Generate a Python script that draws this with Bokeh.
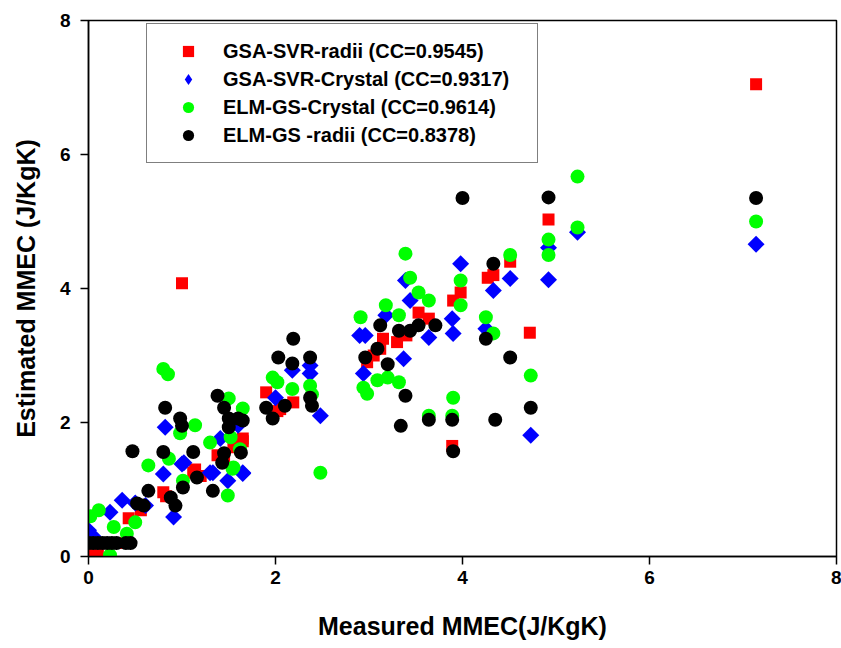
import numpy as np
from bokeh.plotting import figure
from bokeh.models import Legend, LegendItem, FixedTicker, Range1d, ColumnDataSource
from bokeh.embed import file_html
from bokeh.resources import INLINE

# GSA-SVR-radii
svr_radii_x = [0.02, 0.05, 0.1, 0.12, 0.3, 0.43, 0.56, 0.8, 0.83, 1.12, 1.14, 1.2, 1.38, 1.45, 1.55,
               1.6, 1.65, 1.65, 1.0, 1.9, 2.02, 2.05, 2.19, 2.98, 3.05, 3.12, 3.15, 3.3, 3.4, 3.53,
               3.64, 3.9, 3.89, 3.98, 4.27, 4.33, 4.51, 4.72, 4.92, 7.14]
svr_radii_y = [0.06, 0.1, 0.05, 0.2, 0.2, 0.57, 0.69, 0.96, 0.9, 1.25, 1.3, 1.2, 1.51, 1.48, 1.63,
               1.65, 1.76, 1.72, 4.08, 2.45, 2.17, 2.2, 2.3, 2.9, 3.0, 3.1, 3.25, 3.2, 3.3, 3.64,
               3.55, 3.82, 1.65, 3.94, 4.16, 4.2, 4.4, 3.34, 5.03, 7.05]

# GSA-SVR-Crystal
svr_crys_x = [0.0, 0.05, 0.23, 0.36, 0.5, 0.61, 0.8, 0.82, 0.91, 1.0, 1.02, 1.3, 1.33, 1.41, 1.49,
              1.6, 1.65, 1.65, 2.0, 2.18, 2.37, 2.37, 2.48, 2.9, 2.94, 2.96, 3.18, 3.37, 3.39, 3.44,
              3.64, 3.89, 3.9, 3.98, 4.25, 4.33, 4.51, 4.73, 4.92, 4.92, 5.23, 7.14]
svr_crys_y = [0.39, 0.3, 0.66, 0.84, 0.8, 0.76, 1.23, 1.93, 0.59, 1.38, 1.4, 1.25, 1.25, 1.76, 1.13,
              1.96, 1.25, 1.24, 2.37, 2.78, 2.73, 2.85, 2.1, 3.3, 2.73, 3.3, 3.6, 2.95, 4.12, 3.82,
              3.27, 3.55, 3.33, 4.37, 3.4, 3.97, 4.15, 1.81, 4.61, 4.13, 4.84, 4.66]

# ELM-GS-Crystal
elm_crys_x = [0.02, 0.11, 0.23, 0.27, 0.41, 0.5, 0.64, 0.8, 0.85, 0.86, 0.98, 1.01, 1.14, 1.3, 1.49,
              1.5, 1.52, 1.54, 1.55, 1.62, 1.65, 1.97, 2.02, 2.18, 2.37, 2.39, 2.48, 2.91, 2.94, 2.98,
              3.09, 3.18, 3.2, 3.32, 3.32, 3.39, 3.44, 3.53, 3.64, 3.64, 3.89, 3.9, 3.98, 3.98, 4.25,
              4.33, 4.51, 4.73, 4.92, 4.92, 5.23, 5.23, 7.14]
elm_crys_y = [0.6, 0.69, 0.02, 0.44, 0.34, 0.51, 1.36, 2.8, 2.72, 1.46, 1.84, 1.13, 1.96, 1.7, 0.91,
              2.36, 1.78, 1.31, 1.33, 1.6, 2.21, 2.67, 2.6, 2.5, 2.55, 2.42, 1.25, 3.57, 2.52, 2.43,
              2.63, 3.75, 2.67, 3.6, 2.6, 4.52, 4.16, 3.94, 3.82, 2.1, 2.1, 2.37, 4.12, 3.75, 3.57,
              3.33, 4.5, 2.7, 4.73, 4.5, 5.67, 4.91, 5.0]

# ELM-GS -radii
elm_radii_x = [0.0, 0.05, 0.1, 0.15, 0.2, 0.25, 0.3, 0.4, 0.45, 0.47, 0.52, 0.59, 0.64, 0.8, 0.82,
               0.88, 0.93, 0.98, 1.0, 1.01, 1.12, 1.16, 1.33, 1.38, 1.43, 1.45, 1.45, 1.5, 1.5, 1.6,
               1.63, 1.65, 1.9, 1.97, 2.03, 2.1, 2.18, 2.19, 2.37, 2.37, 2.39, 2.96, 3.09, 3.12, 3.2,
               3.32, 3.34, 3.39, 3.44, 3.53, 3.64, 3.71, 3.89, 3.9, 4.0, 4.25, 4.33, 4.35, 4.51, 4.73,
               4.92, 7.14]
elm_radii_y = [0.2, 0.2, 0.2, 0.2, 0.2, 0.2, 0.2, 0.2, 0.2, 1.57, 0.79, 0.76, 0.98, 1.56, 2.22,
               0.88, 0.76, 2.06, 1.95, 1.03, 1.56, 1.18, 0.98, 2.4, 1.4, 2.22, 1.54, 2.06, 1.93, 2.06,
               1.55, 2.03, 2.22, 2.06, 2.97, 2.25, 2.88, 3.25, 2.97, 2.37, 2.25, 2.97, 3.1, 3.45, 2.87,
               3.37, 1.95, 2.4, 3.37, 3.45, 2.04, 3.45, 2.04, 1.57, 5.35, 3.25, 4.37, 2.04, 2.97, 2.22,
               5.36, 5.35]

labels = ["GSA-SVR-radii (CC=0.9545)", "GSA-SVR-Crystal (CC=0.9317)",
          "ELM-GS-Crystal (CC=0.9614)", "ELM-GS -radii (CC=0.8378)"]
ticks = [0, 2, 4, 6, 8]

FONT = "Liberation Sans"
RED, BLUE, GREEN, BLACK = "#ff0000", "#0000ff", "#00ff00", "#000000"

p = figure(width=841, height=648, x_range=Range1d(0, 8), y_range=Range1d(0, 8),
           output_backend="svg", toolbar_location=None,
           min_border_left=88, min_border_right=5, min_border_top=20, min_border_bottom=92)

crys_src = ColumnDataSource(dict(x=svr_crys_x, y=svr_crys_y))

r1 = p.scatter(svr_radii_x, svr_radii_y, marker="square", size=12, fill_color=RED, line_color=None)
# diamond-marker layer (fully covered by the rotated squares below; supplies the legend key)
r2_key = p.scatter("x", "y", source=crys_src, marker="diamond", size=10,
                   fill_color=BLUE, line_color=None)
r2 = p.scatter("x", "y", source=crys_src, marker="square", angle=np.pi / 4, size=12,
               fill_color=BLUE, line_color=None)
r3 = p.scatter(elm_crys_x, elm_crys_y, marker="circle", size=14, fill_color=GREEN, line_color=None)
r4 = p.scatter(elm_radii_x, elm_radii_y, marker="circle", size=14, fill_color=BLACK, line_color=None)

p.xgrid.visible = False
p.ygrid.visible = False
p.outline_line_color = "black"
p.outline_line_width = 1.5
p.background_fill_color = "white"
p.border_fill_color = "white"

for ax in (p.xaxis, p.yaxis):
    ax.ticker = FixedTicker(ticks=ticks)
    ax.minor_tick_line_color = None
    ax.major_tick_in = 0
    ax.major_tick_out = 8
    ax.major_tick_line_width = 1.5
    ax.axis_line_width = 1.5
    ax.major_label_text_font = FONT
    ax.major_label_text_font_style = "bold"
    ax.major_label_text_font_size = "19px"
    ax.major_label_text_color = "black"
    ax.axis_label_text_font = FONT
    ax.axis_label_text_font_style = "bold"
    ax.axis_label_text_font_size = "25px"
    ax.axis_label_text_color = "black"

p.xaxis.axis_label = "Measured MMEC(J/KgK)"
p.yaxis.axis_label = "Estimated MMEC (J/KgK)"
p.xaxis.major_label_standoff = 6
p.yaxis.major_label_standoff = 10
p.xaxis.axis_label_standoff = 25
p.yaxis.axis_label_standoff = 17

legend = Legend(items=[LegendItem(label=labels[0], renderers=[r1]),
                       LegendItem(label=labels[1], renderers=[r2_key]),
                       LegendItem(label=labels[2], renderers=[r3]),
                       LegendItem(label=labels[3], renderers=[r4])],
                location=(58, 393))
legend.label_text_font = FONT
legend.label_text_font_style = "bold"
legend.label_text_font_size = "20px"
legend.label_text_color = "black"
legend.glyph_width = 56
legend.glyph_height = 28
legend.label_height = 28
legend.label_width = 301
legend.label_standoff = 7
legend.spacing = 0
legend.padding = 13
legend.margin = 0
legend.border_line_color = "black"
legend.border_line_width = 1.5
legend.background_fill_alpha = 1.0
p.add_layout(legend)

open("out.html", "w").write(file_html(p, INLINE))
